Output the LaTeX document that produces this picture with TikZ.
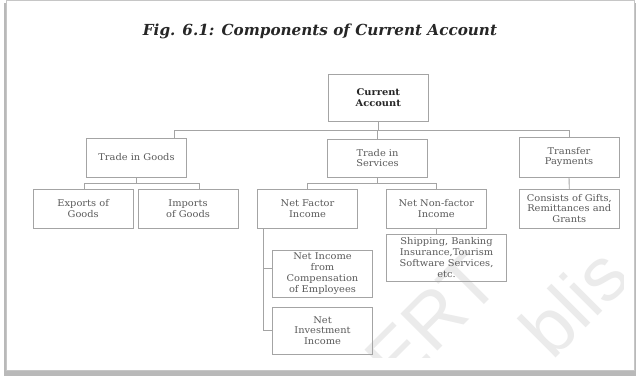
\documentclass[tikz,border=0pt]{standalone}
\usepackage{fontspec}
\setmainfont{DejaVu Serif}
\newfontfamily\boxfont[FakeStretch=1.06]{DejaVu Serif}
\newfontfamily\wmfont{Liberation Sans}
\usetikzlibrary{calc}
\definecolor{boxline}{HTML}{A4A4A4}
\definecolor{boxtext}{HTML}{5A5A5A}
\definecolor{titletext}{HTML}{262626}
\definecolor{wmgray}{HTML}{EBEBEB}
\begin{document}
\begin{tikzpicture}[x=1pt,y=-1pt,
  box/.style={draw=boxline, line width=0.9pt, minimum width=100pt, minimum height=39pt,
    align=center, font=\boxfont\fontsize{9.3}{10.8}\selectfont, text=boxtext, inner sep=1pt},
  conn/.style={draw=boxline, line width=0.9pt},
  wm/.style={font=\wmfont\fontsize{76}{76}\selectfont, text=wmgray, rotate=45}]
\useasboundingbox (0,0) rectangle (636,378);
% page with shadow
\fill[white] (0,0) rectangle (636,378);
\fill[gray!55] (4,3) rectangle (636,376);
\filldraw[fill=white, draw=gray!45, line width=0.6pt] (6.5,0.5) rectangle (634.5,370.5);
% watermark
\begin{scope}
\clip (10,5) rectangle (623,357);
\node[wm] (wm1) at (432,320) {ERT};
\node[wm] (wm2) at (574,302) {blis};
\end{scope}
% title
\node[font=\fontsize{15.2}{16}\selectfont\bfseries\itshape, text=titletext, anchor=base] (title) at (320,35) {Fig. 6.1: Components of Current Account};
% boxes
\node[box, minimum height=47pt, font=\boxfont\fontsize{9.3}{10.5}\selectfont\bfseries, text=titletext] (ca) at (378.3,97.5) {Current\\Account};
\node[box] (tg) at (136.5,157.5) {Trade in Goods};
\node[box, minimum height=38pt] (ts) at (377.5,158) {Trade in\\Services};
\node[box, minimum height=40pt] (tp) at (569,157) {Transfer\\Payments};
\node[box] (ex) at (83.2,208.5) {Exports of\\Goods};
\node[box] (im) at (188,208.5) {Imports\\of Goods};
\node[box] (nf) at (307.5,208.5) {Net Factor\\Income};
\node[box] (nn) at (436.3,208.5) {Net Non-factor\\Income};
\node[box] (cg) at (569.3,208.5) {Consists of Gifts,\\Remittances and\\Grants};
\node[box, minimum width=120pt, minimum height=47pt] (sh) at (446.5,257.5) {Shipping, Banking\\Insurance,Tourism\\Software Services,\\etc.};
\node[box, minimum height=47pt] (ce) at (322.5,273.5) {Net Income\\from\\Compensation\\of Employees};
\node[box, minimum height=47pt] (ni) at (322.5,330.5) {Net\\Investment\\Income};
% connectors
\draw[conn] (ca.south) -- ++(0,9) coordinate (b1);
\draw[conn] ([xshift=-13pt]tg.north east) |- (b1) -| (tp.north);
\draw[conn] (ts.north) -- (ts.north |- b1);
\draw[conn] (tg.south) -- ++(0,6) coordinate (b2);
\draw[conn] ([xshift=1pt]ex.north) |- (b2) -| ([xshift=11pt]im.north);
\draw[conn] (ts.south) -- ++(0,6) coordinate (b3);
\draw[conn] (nf.north) |- (b3) -| (nn.north);
\draw[conn] (tp.south) -- (cg.north);
\draw[conn] (nn.south) -- (nn.south |- sh.north);
\coordinate (f0) at ([xshift=-43.8pt]nf.south);
\draw[conn] (f0) |- (ni.west);
\draw[conn] (f0 |- ce.west) ++(0,-5.5) -- ([yshift=5.5pt]ce.west);
\end{tikzpicture}
\end{document}
